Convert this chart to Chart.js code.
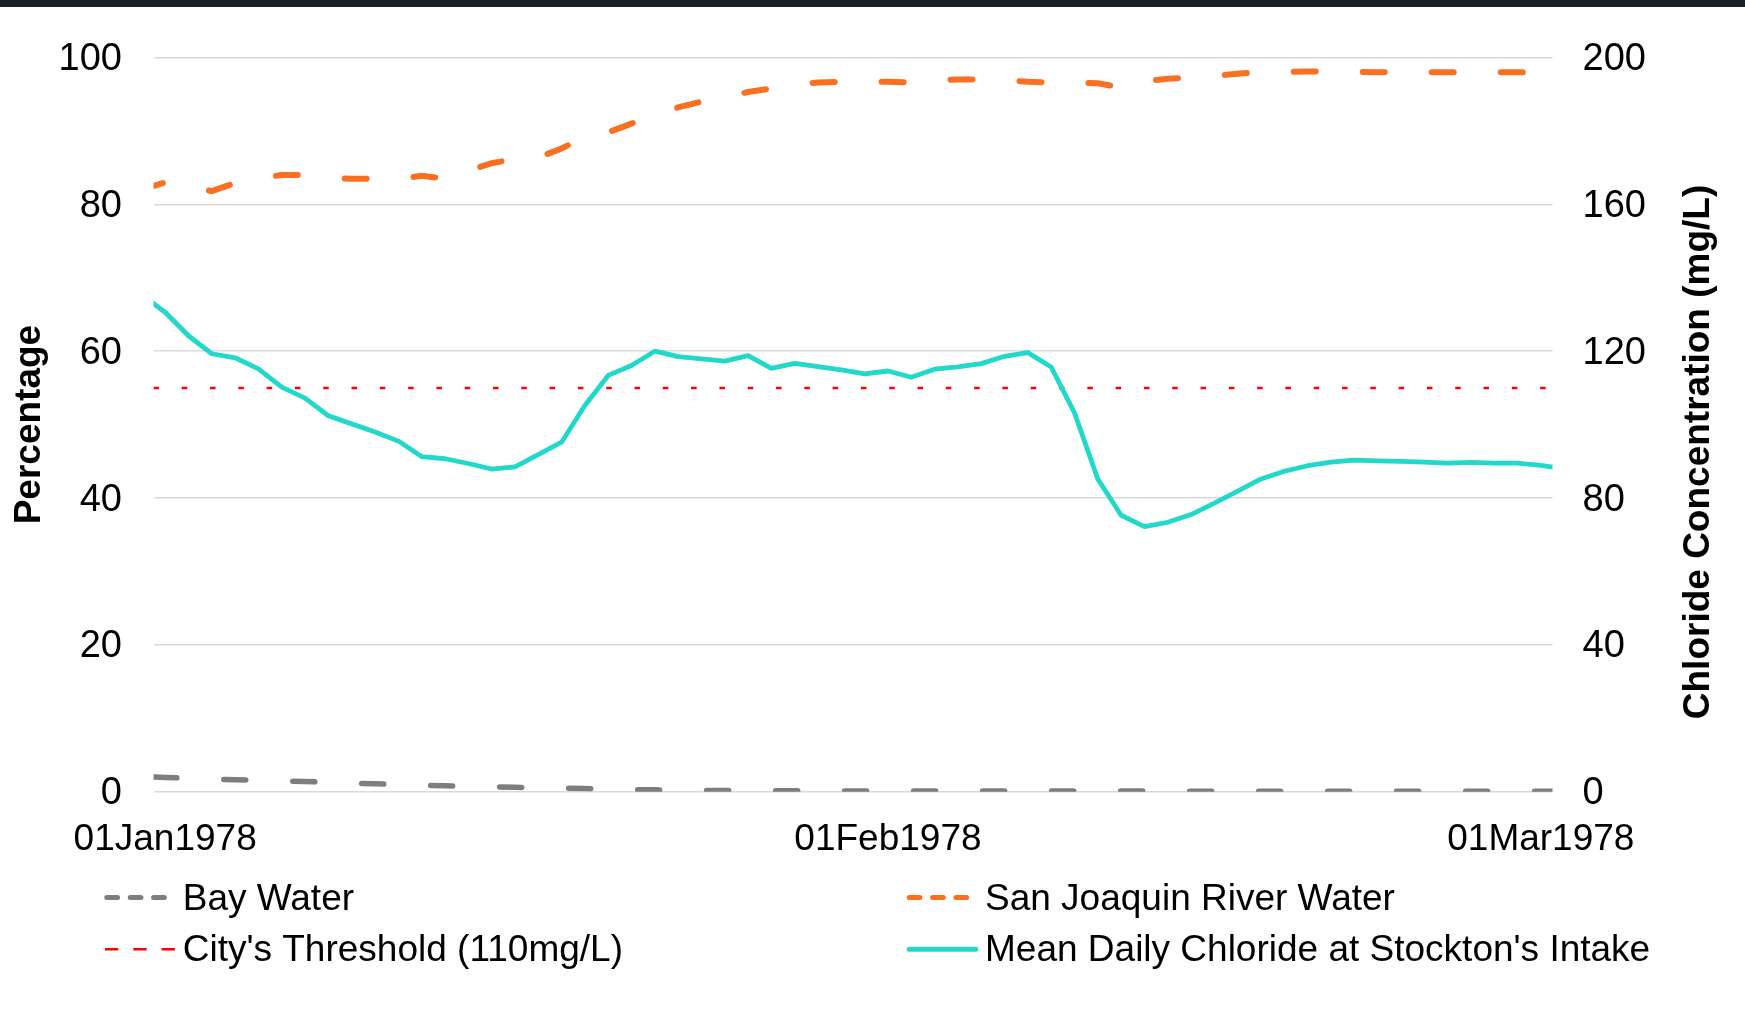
<!DOCTYPE html>
<html>
<head>
<meta charset="utf-8">
<title>Stockton intake chloride, Jan–Mar 1978</title>
<script src="https://cdn.jsdelivr.net/npm/chart.js@4.4.1/dist/chart.umd.min.js"></script>
<style>
    html, body { margin: 0; padding: 0; background: #fff; overflow: hidden; }
    #wrap { position: relative; width: 1745px; height: 1012px; }
    #topbar { position: absolute; left: 0; top: 0; width: 1745px; height: 7px; background: #1c2129; }
</style>
</head>
<body>
<div id="wrap">
    <canvas id="chart-chloride"></canvas>
    <div id="topbar"></div>
</div>
<script>
(function () {
    'use strict';

    // Daily values, 31 Dec 1977 to 02 Mar 1978 (the axis runs 01Jan..01Mar, ends are clipped)
    const dates = [
        '1977-12-31',
        '1978-01-01', '1978-01-02', '1978-01-03', '1978-01-04', '1978-01-05', '1978-01-06', '1978-01-07', '1978-01-08',
        '1978-01-09', '1978-01-10', '1978-01-11', '1978-01-12', '1978-01-13', '1978-01-14', '1978-01-15', '1978-01-16',
        '1978-01-17', '1978-01-18', '1978-01-19', '1978-01-20', '1978-01-21', '1978-01-22', '1978-01-23', '1978-01-24',
        '1978-01-25', '1978-01-26', '1978-01-27', '1978-01-28', '1978-01-29', '1978-01-30', '1978-01-31',
        '1978-02-01', '1978-02-02', '1978-02-03', '1978-02-04', '1978-02-05', '1978-02-06', '1978-02-07', '1978-02-08',
        '1978-02-09', '1978-02-10', '1978-02-11', '1978-02-12', '1978-02-13', '1978-02-14', '1978-02-15', '1978-02-16',
        '1978-02-17', '1978-02-18', '1978-02-19', '1978-02-20', '1978-02-21', '1978-02-22', '1978-02-23', '1978-02-24',
        '1978-02-25', '1978-02-26', '1978-02-27', '1978-02-28',
        '1978-03-01', '1978-03-02',
    ];

    // Percentage (left axis)
    const bayWater = [
        2.10,
        1.95, 1.83, 1.74, 1.62, 1.56, 1.49, 1.38, 1.30, 1.15, 1.07, 0.98, 0.88, 0.81, 0.73, 0.66, 0.59,
        0.51, 0.47, 0.43, 0.34, 0.29, 0.25, 0.20, 0.17, 0.15, 0.14, 0.13, 0.12, 0.12, 0.11, 0.11,
        0.10, 0.10, 0.10, 0.09, 0.09, 0.09, 0.09, 0.08, 0.08, 0.08, 0.08, 0.08, 0.07, 0.07, 0.07, 0.07,
        0.07, 0.07, 0.06, 0.06, 0.06, 0.06, 0.06, 0.06, 0.05, 0.05, 0.05, 0.05,
        0.05, 0.05,
    ];
    const sanJoaquin = [
        82.0,
        83.0, 82.4, 81.8, 82.9, 83.5, 84.0, 84.0, 83.6, 83.5, 83.5, 83.4, 83.9, 83.5, 84.6, 85.6, 86.2,
        86.4, 87.6, 89.2, 89.8, 91.0, 92.2, 93.2, 94.0, 94.6, 95.3, 95.8, 96.3, 96.6, 96.7, 96.7,
        96.7, 96.6, 96.9, 97.0, 97.0, 96.9, 96.7, 96.6, 96.6, 96.5, 95.9, 96.8, 97.1, 97.3, 97.5, 97.8,
        98.0, 98.05, 98.1, 98.1, 98.05, 98.0, 98.0, 98.0, 98.0, 98.0, 98.0, 98.0,
        97.9, 97.7,
    ];

    // mg/L (right axis)
    const chloride = [
        135.3,
        130.6, 124.2, 119.3, 118.2, 115.2, 110.2, 107.2, 102.4, 100.2, 98.0, 95.5, 91.3, 90.7, 89.4, 87.9, 88.5,
        91.8, 95.2, 105.2, 113.4, 116.1, 120.0, 118.5, 117.9, 117.3, 118.8, 115.3, 116.7, 115.8, 114.9, 113.8,
        114.6, 112.9, 115.1, 115.7, 116.6, 118.6, 119.6, 115.7, 103.2, 85.2, 75.3, 72.2, 73.4, 75.5, 78.6, 81.9,
        85.2, 87.3, 88.8, 89.8, 90.3, 90.1, 90.0, 89.8, 89.5, 89.7, 89.5, 89.5,
        88.9, 88.0,
    ];
    const threshold = 110;

    const xTickDates  = ['1978-01-01', '1978-02-01', '1978-03-01'];
    const xTickLabels = ['01Jan1978', '01Feb1978', '01Mar1978'];
    const xMinDate    = '1977-12-31T12:00';
    const xMaxDate    = '1978-03-01T12:00';

    const yLeftTicks  = [0, 20, 40, 60, 80, 100];
    const yRightTicks = [0, 40, 80, 120, 160, 200];

    const yTitleLeft  = 'Percentage';
    const yTitleRight = 'Chloride Concentration (mg/L)';

    const FONT = "'Liberation Sans', Arial, Helvetica, sans-serif";
    const DAY  = 86400000;
    const T0   = Date.parse('1978-01-01T00:00Z');

    function dayOf(s) {
        const iso = s.length > 10 ? s + 'Z' : s + 'T00:00Z';
        return (Date.parse(iso) - T0) / DAY;
    }
    function pts(values) {
        return dates.map((d, i) => ({ x: dayOf(d), y: values[i] }));
    }

    const datasets = [
        {
            label: 'Bay Water',
            data: pts(bayWater),
            yAxisID: 'y',
            borderColor: '#7d7d82',
            borderWidth: 5.5,
            borderDash: [22, 47],
            borderDashOffset: 56,
            borderCapStyle: 'round',
            order: 3,
            legend: { dash: [10.7, 12.7], width: 5, cap: 'round' },
        },
        {
            label: 'San Joaquin River Water',
            data: pts(sanJoaquin),
            yAxisID: 'y',
            borderColor: '#fa7020',
            borderWidth: 6,
            borderDash: [22, 47],
            borderCapStyle: 'round',
            order: 2,
            legend: { dash: [10.7, 12.7], width: 5, cap: 'round' },
        },
        {
            label: "City's Threshold (110mg/L)",
            data: dates.map(d => ({ x: dayOf(d), y: threshold })),
            yAxisID: 'y1',
            borderColor: '#ff0000',
            borderWidth: 2.5,
            borderDash: [5.5, 22.8],
            borderDashOffset: 16.7,
            order: 1,
            legend: { dash: [13.3, 15], width: 2.5, cap: 'butt' },
        },
        {
            label: "Mean Daily Chloride at Stockton's Intake",
            data: pts(chloride),
            yAxisID: 'y1',
            borderColor: '#21d8cb',
            borderWidth: 4.8,
            borderJoinStyle: 'round',
            order: 0,
            legend: { dash: [], width: 5, cap: 'round' },
        },
    ];

    // legend slots: [symbol start, symbol end, text x, baseline]
    const legendSlots = [
        [106.8, 164.3, 182.7, 909.5],
        [909.2, 966.6, 985, 909.5],
        [105, 175, 182.7, 961.3],
        [909.2, 975.8, 985, 961.3],
    ];

    const overlay = {
        id: 'overlay',
        afterDraw(chart) {
            const ctx = chart.ctx;
            const area = chart.chartArea;
            ctx.save();
            ctx.fillStyle = '#000';
            ctx.textAlign = 'center';
            ctx.textBaseline = 'alphabetic';
            ctx.font = `bold 37px ${FONT}`;

            ctx.save();
            ctx.translate(40, (area.top + area.bottom) / 2);
            ctx.rotate(-Math.PI / 2);
            ctx.fillText(yTitleLeft, 0, 0);
            ctx.restore();

            ctx.save();
            ctx.translate(1709, 452);
            ctx.rotate(-Math.PI / 2);
            ctx.fillText(yTitleRight, 0, 0);
            ctx.restore();

            ctx.font = `37px ${FONT}`;
            ctx.textAlign = 'left';
            chart.data.datasets.forEach((ds, i) => {
                const [x0, x1, tx, base] = legendSlots[i];
                const ly = base - 12;
                ctx.save();
                ctx.strokeStyle = ds.borderColor;
                ctx.lineWidth = ds.legend.width;
                ctx.lineCap = ds.legend.cap;
                ctx.setLineDash(ds.legend.dash);
                ctx.beginPath();
                ctx.moveTo(x0, ly);
                ctx.lineTo(x1, ly);
                ctx.stroke();
                ctx.restore();
                ctx.fillText(ds.label, tx, base);
            });
            ctx.restore();
        },
    };

    const ctx = document.getElementById('chart-chloride');
    new Chart(ctx, {
        type: 'line',
        data: { datasets },
        options: {
            responsive: true,
            maintainAspectRatio: false,
            animation: false,
            events: [],
            layout: { padding: { top: 57.5, left: 0, right: 0, bottom: 0 } },
            datasets: {
                line: { pointRadius: 0, tension: 0, fill: false, clip: 0 },
            },
            plugins: {
                legend: { display: false },
                tooltip: { enabled: false },
            },
            scales: {
                x: {
                    type: 'linear',
                    min: dayOf(xMinDate),
                    max: dayOf(xMaxDate),
                    afterBuildTicks: s => { s.ticks = xTickDates.map(d => ({ value: dayOf(d) })); },
                    afterFit: s => { s.height = 1012 - 791.7; },
                    grid: { display: false },
                    border: { display: false },
                    ticks: {
                        autoSkip: false,
                        maxRotation: 0,
                        padding: 18,
                        color: '#000',
                        font: { family: FONT, size: 37 },
                        callback: (v, i) => xTickLabels[i],
                    },
                },
                y: {
                    position: 'left',
                    min: 0,
                    max: 100,
                    afterBuildTicks: s => { s.ticks = yLeftTicks.map(v => ({ value: v })); },
                    afterFit: s => { s.width = 153.5; },
                    grid: { color: '#d9d9d9', lineWidth: 1.6, drawTicks: false },
                    border: { display: false },
                    ticks: {
                        padding: 31.5,
                        labelOffset: 2,
                        color: '#000',
                        font: { family: FONT, size: 38 },
                    },
                },
                y1: {
                    position: 'right',
                    min: 0,
                    max: 200,
                    afterBuildTicks: s => { s.ticks = yRightTicks.map(v => ({ value: v })); },
                    afterFit: s => { s.width = 1745 - 1552.5; },
                    grid: { display: false, drawTicks: false },
                    border: { display: false },
                    ticks: {
                        padding: 30,
                        labelOffset: 2,
                        color: '#000',
                        font: { family: FONT, size: 38 },
                    },
                },
            },
        },
        plugins: [overlay],
    });
})();
</script>
</body>
</html>
